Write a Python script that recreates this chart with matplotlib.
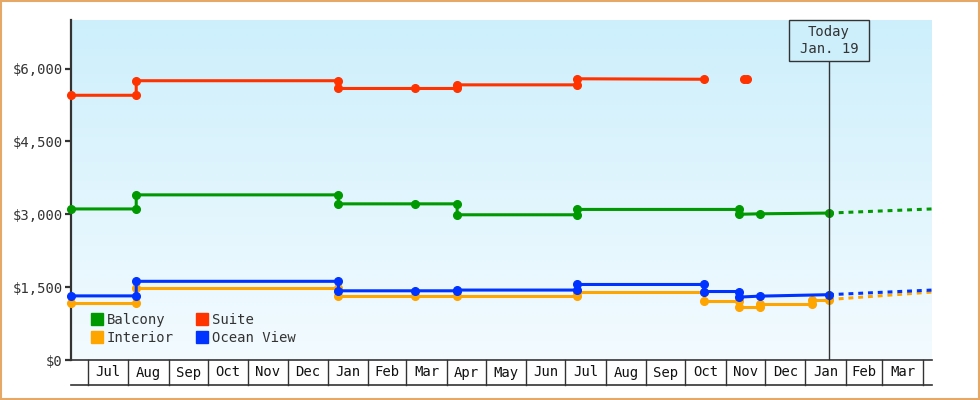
import matplotlib
matplotlib.use("Agg")
import matplotlib.pyplot as plt
import matplotlib.dates as mdates
from matplotlib.patches import Rectangle, Patch
import numpy as np
import pandas as pd

# price history (steps = two points on the same day)
balcony_dates = ["2023-06-18", "2023-08-07", "2023-08-07", "2024-01-09", "2024-01-09", "2024-03-08",
                 "2024-04-09", "2024-04-09", "2024-07-10", "2024-07-10", "2024-11-11", "2024-11-11",
                 "2024-11-27", "2025-01-19"]
balcony_prices = [3110, 3110, 3400, 3400, 3215, 3215, 3215, 2990, 2990, 3100, 3100, 3000, 3010, 3025]

suite_dates = ["2023-06-18", "2023-08-07", "2023-08-07", "2024-01-09", "2024-01-09", "2024-03-08",
               "2024-04-09", "2024-04-09", "2024-07-10", "2024-07-10", "2024-10-15", "2024-11-01",
               "2024-11-15", "2024-11-17"]
suite_prices = [5450, 5450, 5750, 5750, 5590, 5590, 5590, 5665, 5665, 5790, 5780, None, 5780, 5780]

interior_dates = ["2023-06-18", "2023-08-07", "2023-08-07", "2024-01-09", "2024-01-09", "2024-03-08",
                  "2024-04-09", "2024-07-10", "2024-07-10", "2024-10-15", "2024-10-15", "2024-11-11",
                  "2024-11-11", "2024-11-27", "2024-11-27", "2025-01-06", "2025-01-06", "2025-01-19"]
interior_prices = [1180, 1180, 1475, 1475, 1310, 1310, 1310, 1310, 1405, 1405, 1210, 1210,
                   1100, 1100, 1160, 1160, 1245, 1245]

ocean_dates = ["2023-06-18", "2023-08-07", "2023-08-07", "2024-01-09", "2024-01-09", "2024-03-08",
               "2024-04-09", "2024-04-09", "2024-07-10", "2024-07-10", "2024-10-15", "2024-10-15",
               "2024-11-11", "2024-11-11", "2024-11-27", "2025-01-19"]
ocean_prices = [1320, 1320, 1620, 1620, 1425, 1425, 1425, 1440, 1440, 1555, 1555, 1410,
                1410, 1295, 1315, 1345]

# forecast after today
forecast_dates = ["2025-01-19", "2025-04-08"]
balcony_forecast = [3025, 3110]
interior_forecast = [1245, 1400]
ocean_forecast = [1345, 1440]

today = "2025-01-19"
today_label = "Today\nJan. 19"
start_date = "2023-06-18"
end_date = "2025-04-08"

y_ticks = [0, 1500, 3000, 4500, 6000]

green = "#009900"
red = "#ff3300"
orange = "#ffa500"
blue = "#0033ff"
dark = "#333333"
mono = "DejaVu Sans Mono"
bg_top = "#cdeffc"
bg_bottom = "#f3fbff"


def num(dates):
    return mdates.date2num(pd.to_datetime(dates))


def vals(v):
    return np.array([np.nan if x is None else x for x in v], dtype=float)


fig = plt.figure(figsize=(9.8, 4.0), dpi=100)
ax = fig.add_axes([71 / 980, 40 / 400, 861 / 980, 340 / 400])

x0, x1 = num([start_date, end_date])

# background gradient, blue at the top fading to white
grad = np.linspace(1, 0, 256).reshape(-1, 1)
cmap = matplotlib.colors.LinearSegmentedColormap.from_list("bg", [bg_top, bg_bottom])
ax.imshow(grad, aspect="auto", cmap=cmap, extent=[x0, x1, 0, 7000], origin="lower", zorder=0)
ax.set_xlim(x0, x1)
ax.set_ylim(0, 7000)

lw = 2.2
ms = 5.5
series = [
    ("Balcony", balcony_dates, balcony_prices, green),
    ("Interior", interior_dates, interior_prices, orange),
    ("Suite", suite_dates, suite_prices, red),
    ("Ocean View", ocean_dates, ocean_prices, blue),
]
for name, d, p, c in [series[0], series[2], series[1], series[3]]:
    ax.plot(num(d), vals(p), color=c, lw=lw, marker="o", ms=ms, clip_on=False, zorder=3)

for fc, c in [(balcony_forecast, green), (interior_forecast, orange), (ocean_forecast, blue)]:
    ax.plot(num(forecast_dates), fc, color=c, lw=lw, linestyle=(0, (1.6, 1.6)), zorder=2)

# today marker
trans = ax.get_xaxis_transform()
t = num([today])[0]
box_h = 40.7 / 340
ax.plot([t, t], [0, 1 - box_h], color=dark, lw=1, transform=trans, zorder=4)
half_w = 40 / (861 / (x1 - x0))
ax.add_patch(Rectangle((t - half_w, 1 - box_h), 2 * half_w, box_h, transform=trans,
                       facecolor=bg_top, edgecolor=dark, lw=1, zorder=5, clip_on=False))
ax.text(t, 1 - box_h / 2, today_label, transform=trans, ha="center", va="center",
        fontsize=10, family=mono, color=dark, linespacing=1.3, zorder=6)

# axes styling
for s in ["top", "right"]:
    ax.spines[s].set_visible(False)
ax.spines["left"].set_color(dark)
ax.spines["left"].set_linewidth(1.6)
ax.spines["bottom"].set_color(dark)
ax.spines["bottom"].set_linewidth(1.2)
ax.set_yticks(y_ticks)
ax.set_yticklabels(["${:,}".format(v) for v in y_ticks], family=mono, fontsize=10, color=dark)
ax.tick_params(axis="y", length=4, width=1.6, color=dark, pad=2)
ax.set_xticks([])

# month cells under the axis
cell = 25 / 340
months = pd.date_range("2023-07-01", "2025-04-01", freq="MS")
for i, m in enumerate(months):
    mx = mdates.date2num(m)
    ax.plot([mx, mx], [0, -cell], color=dark, lw=1, transform=trans, clip_on=False)
    if i < len(months) - 1:
        mid = (mx + mdates.date2num(months[i + 1])) / 2
        ax.text(mid, -cell / 2, m.strftime("%b"), transform=trans, ha="center", va="center",
                family=mono, fontsize=10, color="#111111")
ax.plot([x0, x1], [-cell, -cell], color=dark, lw=1.2, transform=trans, clip_on=False)

# legend
colors = {name: c for name, d, p, c in series}
order = ["Balcony", "Interior", "Suite", "Ocean View"]
leg = ax.legend([Patch(color=colors[n]) for n in order], order, ncol=2, loc="lower left",
                bbox_to_anchor=(0.01, 0.012), frameon=False, prop={"family": mono, "size": 10},
                handlelength=0.9, handleheight=0.9, handletextpad=0.25, columnspacing=1.6,
                labelspacing=0.3, borderaxespad=0.4)
for txt in leg.get_texts():
    txt.set_color(dark)

# orange frame around the whole picture
fig.patches.append(Rectangle((0.001, 0.002), 0.998, 0.996, transform=fig.transFigure, fill=False,
                             edgecolor="#e6a867", lw=1.5))

fig.savefig("out.png", dpi=100)
